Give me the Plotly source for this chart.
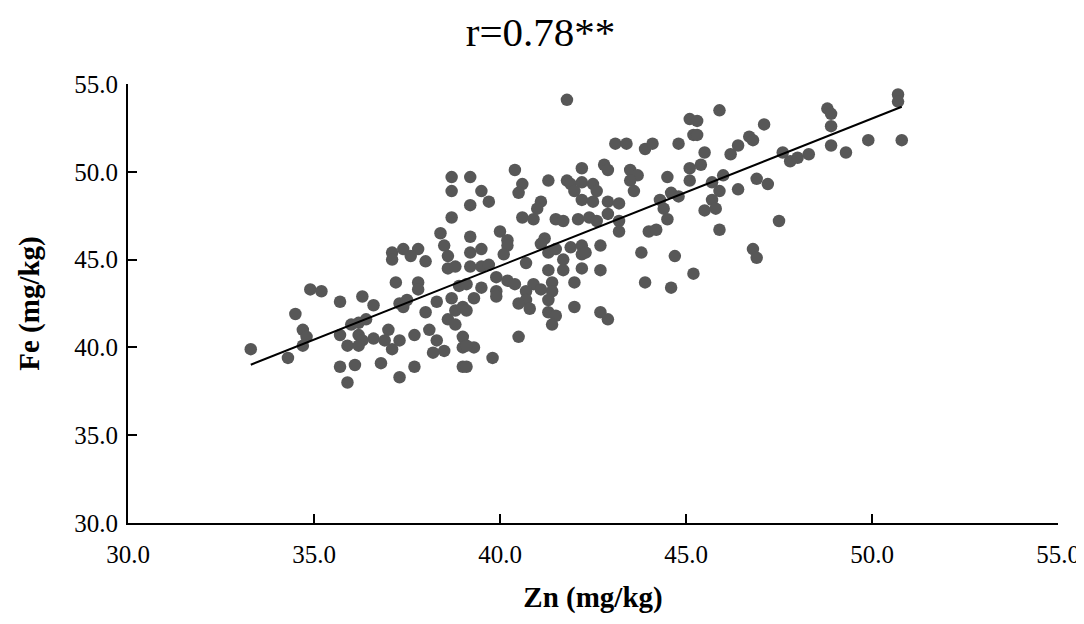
import numpy as np
import plotly.graph_objects as go

# Zn / Fe values (mg/kg)
zn = [
    33.3, 34.3, 34.5, 34.9, 35.2, 34.7, 34.8, 34.7, 35.7, 36.3, 36.6, 35.7, 35.9, 36.0, 36.2, 36.4,
    36.2, 36.3, 36.2, 36.6, 37.0, 36.9, 37.1, 37.3, 37.7, 35.7, 36.1, 35.9, 36.8, 37.3, 37.7, 37.2,
    37.8, 37.8, 37.3, 37.5, 37.4, 38.0, 38.3, 38.1, 38.3, 38.2, 38.5, 37.1, 37.1, 37.4, 37.8, 37.6,
    38.0, 38.5, 38.6, 38.6, 38.8, 38.7, 38.8, 38.6, 38.8, 39.0, 39.0, 39.0, 39.0, 38.9,
    38.7, 38.7, 38.7, 38.4,
    41.8, 39.2, 39.5, 39.7, 39.2, 39.2, 40.0, 40.2, 40.4, 40.6, 40.5, 41.1, 41.0, 40.6, 40.9, 41.2,
    41.3, 41.8, 41.9, 42.2, 42.0, 42.2, 42.2, 42.5, 42.5, 42.6, 42.8, 42.9, 42.9, 42.9, 43.2, 41.5,
    41.7, 42.1, 42.4, 42.6, 43.2, 43.2, 43.1, 43.4, 43.9, 44.1, 43.5, 43.7, 43.5, 43.6, 44.3, 44.4,
    44.5, 44.0, 44.2, 44.5, 44.6, 44.8, 44.8, 45.1, 45.1, 45.1, 45.2,
    45.9, 45.3, 45.3, 45.5, 45.4, 45.7, 46.0, 45.9, 45.7, 45.5, 45.8, 45.9, 46.2, 46.4, 46.4, 46.7,
    46.8, 47.1, 46.9, 47.2, 47.5, 47.6, 47.8, 48.0, 48.3, 48.8, 48.9, 48.9, 48.9, 49.3, 49.9, 50.7,
    50.7, 50.8,
    46.8, 46.9, 45.2,
    39.2, 39.5, 39.2, 39.5, 39.7, 39.9, 39.1, 39.5, 39.3, 39.1, 39.9, 39.9, 40.2, 40.4, 40.2, 40.1,
    40.7, 41.1, 41.3, 41.5, 41.3, 41.7, 41.7, 41.4, 41.4, 41.3, 41.3, 41.5, 41.4, 40.9, 41.1, 40.7,
    40.7, 40.5, 40.8, 41.9, 42.2, 42.2, 42.3, 42.2, 42.0, 42.0, 42.7, 42.7, 42.7, 42.9, 43.8, 44.7,
    43.9, 44.6, 40.5, 39.3, 39.1, 39.8, 39.1,
]
fe = [
    39.9, 39.4, 41.9, 43.3, 43.2, 41.0, 40.6, 40.1, 42.6, 42.9, 42.4, 40.7, 40.1, 41.3, 41.4, 41.6,
    40.7, 40.4, 40.1, 40.5, 41.0, 40.4, 39.9, 40.4, 40.7, 38.9, 39.0, 38.0, 39.1, 38.3, 38.9, 43.7,
    43.7, 43.3, 42.5, 42.7, 42.3, 42.0, 42.6, 41.0, 40.4, 39.7, 39.8, 45.4, 45.0, 45.6, 45.6, 45.2,
    44.9, 45.8, 45.2, 44.5, 44.6, 42.8, 42.1, 41.6, 41.3, 42.3, 40.6, 40.0, 38.9, 43.5,
    49.7, 48.9, 47.4, 46.5,
    54.1, 49.7, 48.9, 48.3, 48.1, 46.3, 46.6, 46.1, 50.1, 49.3, 48.8, 48.3, 47.9, 47.4, 47.3, 46.2,
    49.5, 49.5, 49.3, 49.4, 48.9, 50.2, 48.4, 48.3, 49.3, 48.9, 50.4, 50.1, 48.3, 47.6, 48.2, 47.3,
    47.2, 47.3, 47.4, 47.2, 47.2, 46.6, 51.6, 51.6, 51.3, 51.6, 50.1, 49.8, 49.5, 48.9, 48.4, 47.9,
    47.3, 46.6, 46.7, 49.7, 48.8, 48.6, 51.6, 50.2, 49.5, 53.0, 52.1,
    53.5, 52.9, 52.1, 51.1, 50.4, 49.4, 49.8, 48.9, 48.4, 47.8, 47.9, 46.7, 51.0, 51.5, 49.0, 52.0,
    51.8, 52.7, 49.6, 49.3, 47.2, 51.1, 50.6, 50.8, 51.0, 53.6, 53.3, 52.6, 51.5, 51.1, 51.8, 54.4,
    54.0, 51.8,
    45.6, 45.1, 44.2,
    45.4, 45.6, 44.6, 44.6, 44.7, 44.0, 43.6, 43.4, 42.8, 42.1, 43.2, 42.9, 43.8, 43.6, 45.8, 45.3,
    44.8, 45.9, 45.4, 45.6, 44.4, 45.0, 44.4, 43.7, 43.2, 42.7, 42.0, 41.8, 41.3, 43.6, 43.3, 43.2,
    42.7, 42.5, 42.2, 45.7, 45.8, 45.3, 45.4, 44.5, 43.7, 42.3, 45.8, 44.4, 42.0, 41.6, 45.4, 45.2,
    43.7, 43.4, 40.6, 40.0, 40.1, 39.4, 38.9,
]

title_text = "r=0.78**"
x_title = "Zn (mg/kg)"
y_title = "Fe (mg/kg)"
tick_vals = [30, 35, 40, 45, 50, 55]

serif = "Times New Roman, Liberation Serif, serif"

# linear fit drawn over the data range
slope, intercept = np.polyfit(zn, fe, 1)
fit_x = np.array([min(zn), max(zn)])
fit_y = slope * fit_x + intercept

fig = go.Figure()
fig.add_trace(go.Scatter(
    x=zn, y=fe, mode="markers",
    marker=dict(size=12.5, color="#575757"),
    showlegend=False, hoverinfo="skip",
))
fig.add_trace(go.Scatter(
    x=fit_x, y=fit_y, mode="lines",
    line=dict(color="black", width=2),
    showlegend=False, hoverinfo="skip",
))

axis_common = dict(
    range=[30, 55], tickvals=tick_vals, tickformat=".1f",
    showgrid=False, zeroline=False,
    showline=True, linecolor="black",
    ticks="inside", ticklen=9, tickcolor="black",
    tickfont=dict(family=serif, size=25, color="black"),
    automargin=False,
)

# page body adds an 8px margin; figure is sized so the page does not scroll
fig.update_layout(
    width=1076, height=608,
    margin=dict(l=120, r=26, t=76, b=93),
    paper_bgcolor="white", plot_bgcolor="white",
    title=dict(text=title_text, x=0.495, xref="container", xanchor="center",
               y=0.961, yref="container", yanchor="middle",
               font=dict(family=serif, size=41, color="black")),
    xaxis=dict(**axis_common, linewidth=1.5, tickwidth=1.5,
               ticklabelstandoff=8,
               title=dict(text="<b>" + x_title + "</b>", standoff=20,
                          font=dict(family=serif, size=29, color="black"))),
    yaxis=dict(**axis_common, linewidth=2, tickwidth=2,
               ticklabelstandoff=3,
               title=dict(text="<b>" + y_title + "</b>", standoff=26,
                          font=dict(family=serif, size=29, color="black"))),
)

fig.write_html("out.html")
